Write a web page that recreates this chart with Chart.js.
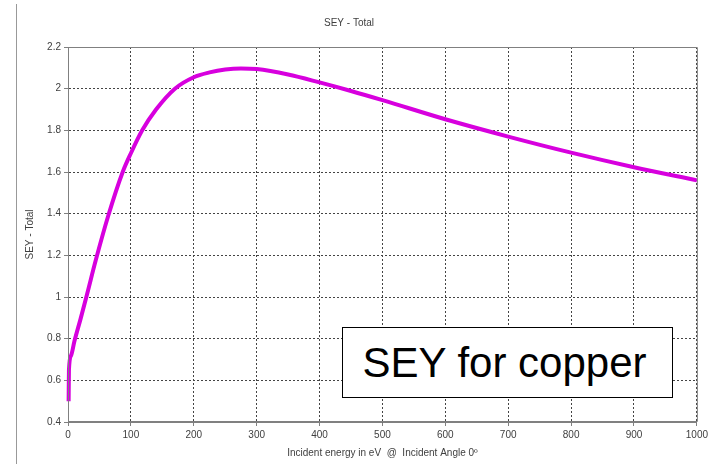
<!DOCTYPE html>
<html>
<head>
<meta charset="utf-8">
<title>SEY - Total</title>
<script src="https://cdn.jsdelivr.net/npm/chart.js@4.4.1/dist/chart.umd.min.js"></script>
<style>
    html, body { margin: 0; padding: 0; background: #fff; }
    #wrap { position: relative; width: 711px; height: 464px; }
    #note {
        position: absolute; left: 342px; top: 327px;
        width: 323px; height: 69px; padding-right: 6px;
        border: 1px solid #000; background: #fff; color: #000;
        font-family: "Liberation Sans", Arial, sans-serif;
        font-size: 42px; line-height: 69px; text-align: center;
    }
</style>
</head>
<body>
<div id="wrap">
    <canvas id="seyChart" width="711" height="464"></canvas>
    <div id="note">SEY for copper</div>
</div>
<script>
// Incident energy (eV) and total SEY
const energy = [1, 1.5, 5, 10, 20, 30, 44, 64, 87, 100, 118, 140, 170, 200, 225, 250, 275, 300, 350, 400, 450, 500, 600, 700, 800, 900, 1000];
const seyTotal = [0.5, 0.65, 0.72, 0.785, 0.895, 1.01, 1.175, 1.39, 1.6, 1.69, 1.8, 1.9, 2.0, 2.055, 2.078, 2.092, 2.097, 2.094, 2.068, 2.03, 1.989, 1.945, 1.853, 1.77, 1.693, 1.623, 1.56];

const xTicks = [0, 100, 200, 300, 400, 500, 600, 700, 800, 900, 1000];
const yTicks = [0.4, 0.6, 0.8, 1, 1.2, 1.4, 1.6, 1.8, 2, 2.2];

const FONT = "'Liberation Sans', Arial, sans-serif";
const TEXT = '#404040';
const FRAME = '#808080';

// plot frame (top/right too) and the thin line on the far left
const framePlugin = {
    id: 'frame',
    afterDraw(chart) {
        const { ctx, chartArea: a } = chart;
        ctx.save();
        ctx.strokeStyle = FRAME;
        ctx.lineWidth = 1;
        ctx.setLineDash([]);
        ctx.beginPath();
        ctx.moveTo(a.left + 0.5, a.top + 0.5);
        ctx.lineTo(a.right + 0.5, a.top + 0.5);
        ctx.lineTo(a.right + 0.5, a.bottom - 0.5);
        ctx.lineTo(a.left + 0.5, a.bottom - 0.5);
        ctx.closePath();
        ctx.stroke();
        ctx.strokeStyle = '#999';
        ctx.beginPath();
        ctx.moveTo(16.5, 4);
        ctx.lineTo(16.5, 464);
        ctx.stroke();
        ctx.restore();
    }
};

const gridOpts = {
    color: '#444',
    lineWidth: 1,
    tickColor: FRAME,
    tickLength: 4,
    tickBorderDash: []
};

new Chart(document.getElementById('seyChart'), {
    type: 'line',
    data: {
        datasets: [{
            label: 'SEY - Total',
            data: energy.map((e, i) => ({ x: e, y: seyTotal[i] })),
            borderColor: 'rgb(215, 0, 222)',
            borderWidth: 4,
            pointRadius: 0,
            cubicInterpolationMode: 'monotone',
            clip: false
        }]
    },
    options: {
        responsive: false,
        animation: false,
        layout: { padding: { left: 0, right: 13, top: 0, bottom: 0 } },
        plugins: {
            legend: { display: false },
            tooltip: { enabled: false },
            title: {
                display: true,
                text: 'SEY - Total',
                color: TEXT,
                font: { family: FONT, size: 10, weight: 'normal' },
                padding: { top: 17, bottom: 18 }
            }
        },
        scales: {
            x: {
                type: 'linear',
                min: 0,
                max: 1000,
                afterBuildTicks: s => { s.ticks = xTicks.map(v => ({ value: v })); },
                afterFit: s => { s.height = 42; },
                grid: gridOpts,
                border: { color: FRAME, dash: [2, 2] },
                ticks: { color: TEXT, font: { family: FONT, size: 10 }, padding: 3, maxRotation: 0, callback: v => String(v) },
                title: {
                    display: true,
                    text: 'Incident energy in eV  @  Incident Angle 0º',
                    color: TEXT,
                    font: { family: FONT, size: 10 },
                    padding: { top: 0, bottom: 5 }
                }
            },
            y: {
                min: 0.4,
                max: 2.2,
                afterBuildTicks: s => { s.ticks = yTicks.map(v => ({ value: v })); },
                afterFit: s => { s.width = 68; },
                grid: gridOpts,
                border: { color: FRAME, dash: [2, 2] },
                ticks: { color: TEXT, font: { family: FONT, size: 10 }, padding: 3, callback: v => String(v) },
                title: {
                    display: true,
                    text: 'SEY - Total',
                    color: TEXT,
                    font: { family: FONT, size: 10 },
                    padding: { top: 24, bottom: 0 }
                }
            }
        }
    },
    plugins: [framePlugin]
});
</script>
</body>
</html>
